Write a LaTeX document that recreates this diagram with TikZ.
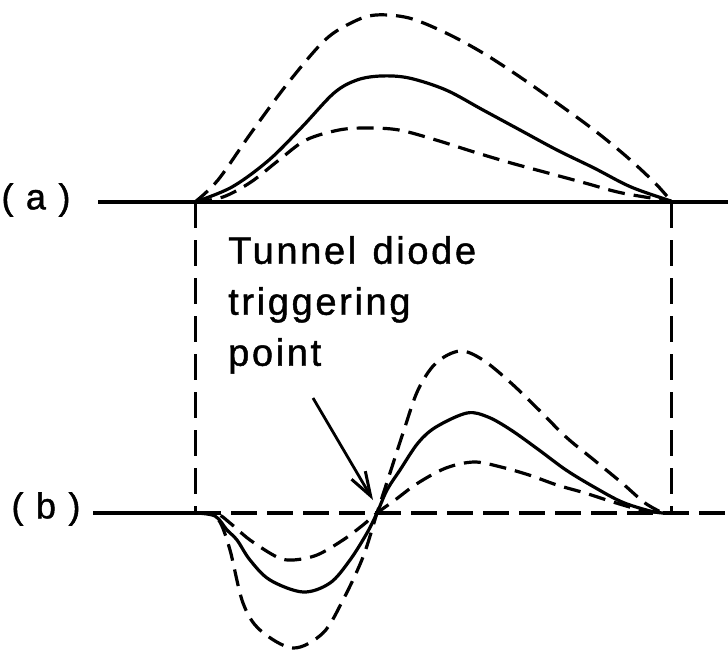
\documentclass[tikz,border=0pt]{standalone}
\usepackage{fontspec}
\newfontfamily\lettering[LetterSpace=7, FakeBold=1.2]{Liberation Sans}
\usetikzlibrary{arrows.meta}

\begin{document}
\begin{tikzpicture}[
    x=1pt, y=-1pt,
    solidcurve/.style={line width=3.2pt, line join=round, line cap=round},
    dashcurve/.style={line width=3.2pt, dash pattern=on 17pt off 9pt},
    axisline/.style={line width=3.2pt},
    guide/.style={line width=3pt, dash pattern=on 26pt off 12pt},
    lbl/.style={font=\lettering\fontsize{36}{40}\selectfont, inner sep=0pt},
    note/.style={font=\lettering\fontsize{38}{51}\selectfont, align=left, inner sep=0pt},
    arrow/.style={-{Straight Barb[length=24pt,width=16pt,line width=3pt]}, line width=2.8pt}
]
    \useasboundingbox (0,0) rectangle (728,650);

    % labels
    \node[lbl] (lbla) at (36,200) {( a )};
    \node[lbl] (lblb) at (46,509) {( b )};
    \node[note, anchor=north west] (trig) at (228,236) {Tunnel\hspace{3pt} diode\\triggering\\point};

    % axes
    \draw[axisline] (98,202) -- (728,202);
    \draw[axisline] (93,513) -- (195,513);
    \draw[axisline, dash pattern=on 26pt off 10pt] (195,513) -- (728,513);
    \draw[guide] (195,202) -- (195,513);
    \draw[guide] (671,202) -- (671,513);

    % (a) pulses
    \draw[dashcurve] plot[smooth, tension=0.55] coordinates {(195,202) (218,180) (251,133) (288,83) (325,40) (353,22) (376,15) (409,18) (446,33) (483,53) (520,77) (557,103) (594,130) (627,157) (655,183) (671,201)};
    \draw[solidcurve] plot[smooth, tension=0.55] coordinates {(195,202) (232,187) (269,160) (302,127) (334,93) (357,80) (381,76) (409,78) (446,90) (483,110) (520,130) (557,150) (594,168) (631,187) (671,201)};
    \draw[dashcurve] plot[smooth, tension=0.55] coordinates {(195,202) (223,197) (251,182) (279,160) (306,140) (339,130) (367,128) (399,130) (436,140) (474,152) (511,163) (548,173) (585,183) (622,193) (671,201)};

    % (b) derivatives
    \draw[dashcurve] plot[smooth, tension=0.55] coordinates {(195,513) (210,514) (220,522) (230,550) (243,603) (260,630) (293,648) (323,633) (343,600) (363,557) (377,513) (390,473) (404,430) (418,390) (436,363) (460,351) (483,360) (511,383) (539,410) (566,437) (594,460) (622,483) (645,503) (663,513)};
    \draw[solidcurve] plot[smooth, tension=0.55] coordinates {(195,513) (215,516) (227,530) (237,540) (250,560) (270,580) (303,592) (330,583) (350,560) (367,533) (377,513) (387,490) (400,470) (418,443) (436,427) (467,413) (488,417) (511,430) (539,450) (566,470) (594,487) (622,502) (650,511) (663,513)};
    \draw[dashcurve] plot[smooth, tension=0.55] coordinates {(195,513) (217,514) (230,523) (250,540) (277,557) (293,560) (317,555) (343,540) (363,525) (377,513) (395,500) (418,483) (446,468) (474,462) (501,467) (529,475) (557,485) (585,493) (613,502) (641,510) (663,513)};

    \coordinate (cross) at (373,500);
    \coordinate (arrowstart) at (313,398);
    \draw[arrow] (arrowstart) -- (cross);
\end{tikzpicture}
\end{document}
